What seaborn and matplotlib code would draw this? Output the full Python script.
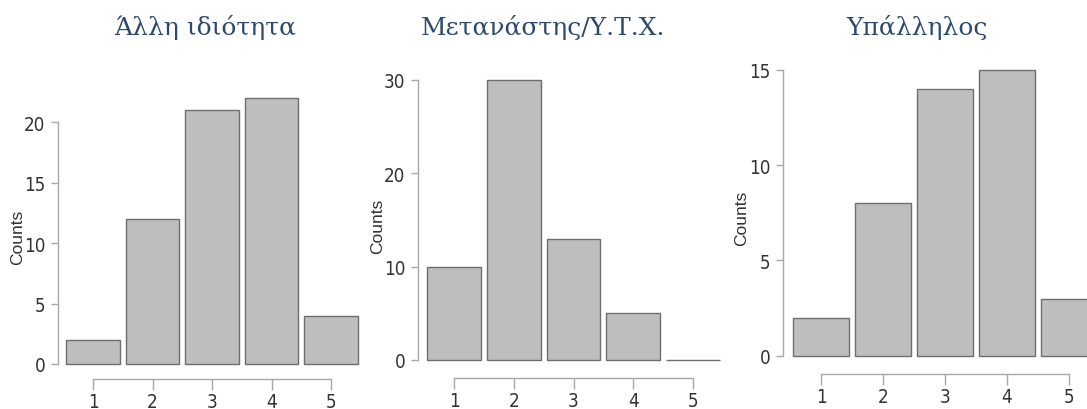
import matplotlib
matplotlib.use("Agg")
import matplotlib.pyplot as plt
import seaborn as sns
import pandas as pd
from matplotlib import font_manager

sns.set_style("white")

categories = ["1", "2", "3", "4", "5"]
titles = ["Άλλη ιδιότητα", "Μετανάστης/Υ.Τ.Χ.", "Υπάλληλος"]
counts_other = [2, 12, 21, 22, 4]
counts_migrant = [10, 30, 13, 5, 0]
counts_employee = [2, 8, 14, 15, 3]
series = [counts_other, counts_migrant, counts_employee]
yticks_list = [[0, 5, 10, 15, 20], [0, 10, 20, 30], [0, 5, 10, 15]]

fonts = [(f.name, f.stretch, f.fname) for f in font_manager.fontManager.ttflist]
names = {f[0] for f in fonts}
cond = [f for f in fonts if "Condensed" in f[2] and "DejaVuSans" in f[2] and "Bold" not in f[2] and "Oblique" not in f[2]]
if "Liberation Sans Narrow" in names:
    tick_fp = font_manager.FontProperties(family="Liberation Sans Narrow", size=14)
elif cond:
    tick_fp = font_manager.FontProperties(fname=cond[0][2], size=13.5)
else:
    tick_fp = font_manager.FontProperties(family="Liberation Sans", size=13)

W, H = 1087, 410
fig = plt.figure(figsize=(W / 100, H / 100), dpi=100)

# layout in pixels
layout = [
    (58, 93, 331, 360, 365, 99, 22, 11, 205, 18),
    (418, 454, 693, 722, 361, 81, 30, 13, 543, 378),
    (783, 821, 1068.7, 1087, 356.7, 70.7, 15, 13, 917, 742),
]

title_color = "#2C4A6E"
axis_color = "#A8A8A8"
text_color = "#333333"

for vals, title, yt, (xs, t1, t5, xr, y0, ytop, ytopv, off, tcx, ylx) in zip(series, titles, yticks_list, layout):
    ax = fig.add_axes([xs / W, 1 - y0 / H, (xr - xs) / W, (y0 - ytop) / H])
    df = pd.DataFrame({"cat": categories, "count": vals})
    sns.barplot(data=df, x="cat", y="count", order=categories, ax=ax,
                color="#BEBEBE", edgecolor="#6E6E6E", linewidth=1.0,
                width=0.9, saturation=1)
    for p in ax.patches:
        p.set_clip_on(False)
    unit = (t5 - t1) / 4
    ax.set_xlim(-(t1 - xs) / unit, 4 + (xr - t5) / unit)
    ax.set_ylim(0, ytopv)
    ax.set_yticks(yt)
    ax.set_xticks(range(5))
    ax.set_xticklabels(categories)
    for s in ["top", "right"]:
        ax.spines[s].set_visible(False)
    ax.spines["left"].set_bounds(yt[0], yt[-1])
    ax.spines["bottom"].set_bounds(0, 4)
    ax.spines["bottom"].set_position(("outward", off))
    for s in ["left", "bottom"]:
        ax.spines[s].set_color(axis_color)
        ax.spines[s].set_linewidth(1.0)
    ax.tick_params(axis="both", which="both", length=5, width=1.0, color=axis_color,
                   labelcolor=text_color, direction="out", pad=4,
                   bottom=True, left=True)
    ax.tick_params(axis="x", length=8, pad=1.5)
    for lab in ax.get_xticklabels() + ax.get_yticklabels():
        lab.set_fontproperties(tick_fp)
    ax.set_xlabel("")
    ax.set_ylabel("")
    fig.text(ylx / W, 1 - ((y0 + ytop) / 2 + 5) / H, "Counts", rotation=90,
             ha="center", va="center", fontsize=12.5, color=text_color,
             family="Liberation Sans")
    fig.text(tcx / W, 1 - 28 / H, title, ha="center", va="center",
             fontsize=18, color=title_color, family=["DejaVu Serif"])

fig.savefig("out.png", dpi=100)
